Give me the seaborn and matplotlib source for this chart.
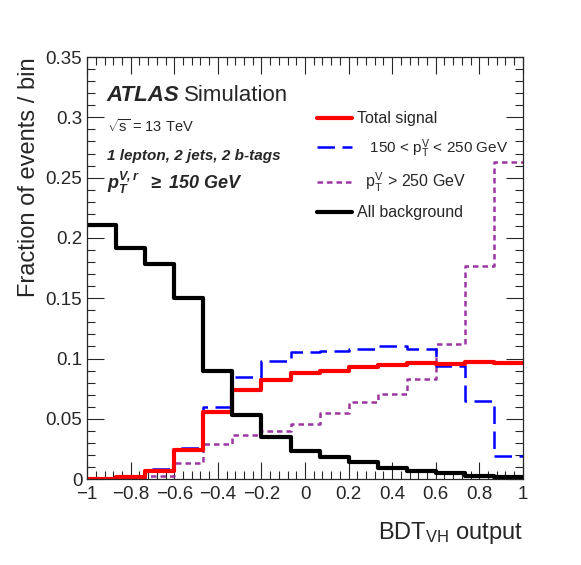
import numpy as np
import pandas as pd
import matplotlib
matplotlib.use('Agg')
import matplotlib.pyplot as plt
from matplotlib.lines import Line2D
from matplotlib.ticker import MultipleLocator
import seaborn as sns

# 15 equal bins of BDT_VH output
edges = np.linspace(-1, 1, 16)

total_signal = [0.0005, 0.0017, 0.007, 0.024, 0.0555, 0.0735, 0.082, 0.088,
                0.0898, 0.0929, 0.0948, 0.0967, 0.0953, 0.0975, 0.096]
sig_150_250 = [0.0005, 0.002, 0.0088, 0.026, 0.060, 0.0846, 0.0978, 0.1058,
               0.1064, 0.108, 0.110, 0.108, 0.0934, 0.065, 0.0193]
sig_250 = [0.0, 0.0005, 0.003, 0.013, 0.029, 0.0367, 0.0395, 0.046,
           0.0552, 0.0643, 0.0705, 0.0834, 0.112, 0.177, 0.263]
background = [0.211, 0.192, 0.178, 0.150, 0.090, 0.053, 0.035, 0.023,
              0.0187, 0.014, 0.009, 0.007, 0.005, 0.003, 0.0015]

sns.set_style('ticks')
plt.rcParams['font.family'] = ['Liberation Sans', 'DejaVu Sans']
plt.rcParams['mathtext.fontset'] = 'custom'
plt.rcParams['mathtext.rm'] = 'Liberation Sans'
plt.rcParams['mathtext.it'] = 'Liberation Sans:italic'
plt.rcParams['mathtext.bf'] = 'Liberation Sans:bold:italic'

fig = plt.figure(figsize=(5.81, 5.65), dpi=100)
ax = fig.add_axes([0.150, 0.152, 0.750, 0.747])

purple = '#9d36a3'
blue_dash = (0, (7, 3))
purple_dot = (0, (2.2, 1.6))
series = [
    (sig_250, purple, 1.8, purple_dot),
    (sig_150_250, '#0000ff', 1.8, blue_dash),
    (total_signal, '#ff0000', 3.0, '-'),
    (background, 'black', 3.0, '-'),
]
for vals, col, lw, ls in series:
    # step histogram: repeat last value so the final bin reaches x = 1
    df = pd.DataFrame({'bdt': edges, 'frac': list(vals) + [vals[-1]]})
    sns.lineplot(data=df, x='bdt', y='frac', drawstyle='steps-post', estimator=None,
                 color=col, linewidth=lw, linestyle=ls, ax=ax)

ax.set_xlim(-1, 1)
ax.set_ylim(0, 0.35)
ax.xaxis.set_minor_locator(MultipleLocator(0.04))
ax.yaxis.set_minor_locator(MultipleLocator(0.01))
ax.tick_params(which='both', direction='in', top=True, right=True, labelsize=13.5)
ax.tick_params(axis='x', pad=5)
ax.tick_params(which='major', length=12, width=0.8)
ax.tick_params(which='minor', length=6, width=0.8)
ax.set_xticks(np.round(np.arange(-1, 1.01, 0.2), 1))
ax.set_xticklabels(['\u22121', '\u22120.8', '\u22120.6', '\u22120.4', '\u22120.2', '0',
                    '0.2', '0.4', '0.6', '0.8', '1'])
ax.set_yticks(np.round(np.arange(0, 0.351, 0.05), 2))
ax.set_yticklabels(['0', '0.05', '0.1', '0.15', '0.2', '0.25', '0.3', '0.35'])
for s in ax.spines.values():
    s.set_linewidth(0.9)

ax.set_xlabel(r'BDT$_{\mathregular{VH}}$ output', fontsize=17, loc='right', labelpad=12)
ax.set_ylabel('Fraction of events / bin', fontsize=17, loc='top', labelpad=4)

ax.text(0.045, 0.895, 'ATLAS', transform=ax.transAxes, fontsize=16,
        fontweight='bold', fontstyle='italic')
ax.text(0.222, 0.895, 'Simulation', transform=ax.transAxes, fontsize=16)
ax.text(0.045, 0.822, r'$\sqrt{\mathregular{s}}$ = 13 TeV', transform=ax.transAxes, fontsize=10.5)
ax.text(0.045, 0.755, '1 lepton, 2 jets, 2 b-tags', transform=ax.transAxes, fontsize=11,
        fontweight='bold', fontstyle='italic')
ax.text(0.045, 0.688, r'$\mathbf{p_T^{V,r}}$  $\mathbf{\geq}$ 150 GeV', transform=ax.transAxes,
        fontsize=13, fontweight='bold', fontstyle='italic')

handles = [
    Line2D([], [], color='#ff0000', lw=3.0),
    Line2D([], [], color='#0000ff', lw=1.8, ls=blue_dash),
    Line2D([], [], color=purple, lw=1.8, ls=purple_dot),
    Line2D([], [], color='black', lw=3.0),
]
labels = ['Total signal',
          r'   150 < p$_\mathregular{T}^\mathregular{V}$ < 250 GeV',
          r'  p$_\mathregular{T}^\mathregular{V}$ > 250 GeV',
          'All background']
leg = ax.legend(handles, labels, loc='upper left', bbox_to_anchor=(0.512, 0.887), frameon=False,
                fontsize=11.5, handlelength=2.2, handletextpad=0.35, labelspacing=0.7,
                borderaxespad=0)
leg.get_texts()[1].set_fontsize(11)

fig.savefig('out.png', dpi=100)
